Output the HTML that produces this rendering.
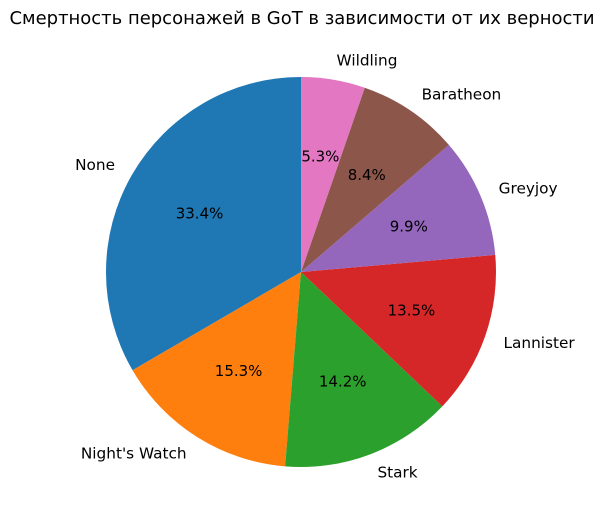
<!DOCTYPE html>
<html><head><meta charset="utf-8">
<style>
body{margin:0;background:#fff;}
svg text{font-family:"DejaVu Sans","Liberation Sans",sans-serif;}
</style></head>
<body>
<svg id="chart" width="613" height="514" viewBox="0 0 613 514">
<rect width="613" height="514" fill="#fff"/>
<text x="302" y="24" text-anchor="middle" font-size="18" fill="#000" textLength="585" lengthAdjust="spacingAndGlyphs">Смертность персонажей в GoT в зависимости от их верности</text>
<g id="slices"></g>
</svg>
<script>
const categories = ["None","Night's Watch","Stark","Lannister","Greyjoy","Baratheon","Wildling"];
const values = [33.4,15.3,14.2,13.5,9.9,8.4,5.3];
const colors = ["#1f77b4","#ff7f0e","#2ca02c","#d62728","#9467bd","#8c564b","#e377c2"];
const cx=301, cy=272, R=195;
const ns="http://www.w3.org/2000/svg";
const g=document.getElementById('slices');
const total=values.reduce((a,b)=>a+b,0);
function pt(a,r){return [cx+r*Math.cos(a), cy-r*Math.sin(a)];}
let start=Math.PI/2;
values.forEach((v,i)=>{
  const sweep=v/total*2*Math.PI;
  const end=start+sweep;
  const [x1,y1]=pt(start,R),[x2,y2]=pt(end,R);
  const large=sweep>Math.PI?1:0;
  const p=document.createElementNS(ns,'path');
  p.setAttribute('d',`M${cx},${cy} L${x1},${y1} A${R},${R} 0 ${large} 0 ${x2},${y2} Z`);
  p.setAttribute('fill',colors[i]);
  
  
  g.appendChild(p);
  const mid=start+sweep/2;
  const [lx,ly]=pt(mid,R*1.1);
  const t=document.createElementNS(ns,'text');
  t.setAttribute('x',lx);t.setAttribute('y',ly+5);
  t.setAttribute('font-size','15.3');
  t.setAttribute('text-anchor',Math.cos(mid)>0?'start':'end');
  t.textContent=categories[i];
  
  
  g.appendChild(t);
  const [px,py]=pt(mid,R*0.6);
  const t2=document.createElementNS(ns,'text');
  t2.setAttribute('x',px);t2.setAttribute('y',py+5);
  t2.setAttribute('font-size','15');
  t2.setAttribute('text-anchor','middle');
  t2.textContent=(v/total*100).toFixed(1)+'%';
  
  
  g.appendChild(t2);
  start=end;
});
</script>
</body></html>
